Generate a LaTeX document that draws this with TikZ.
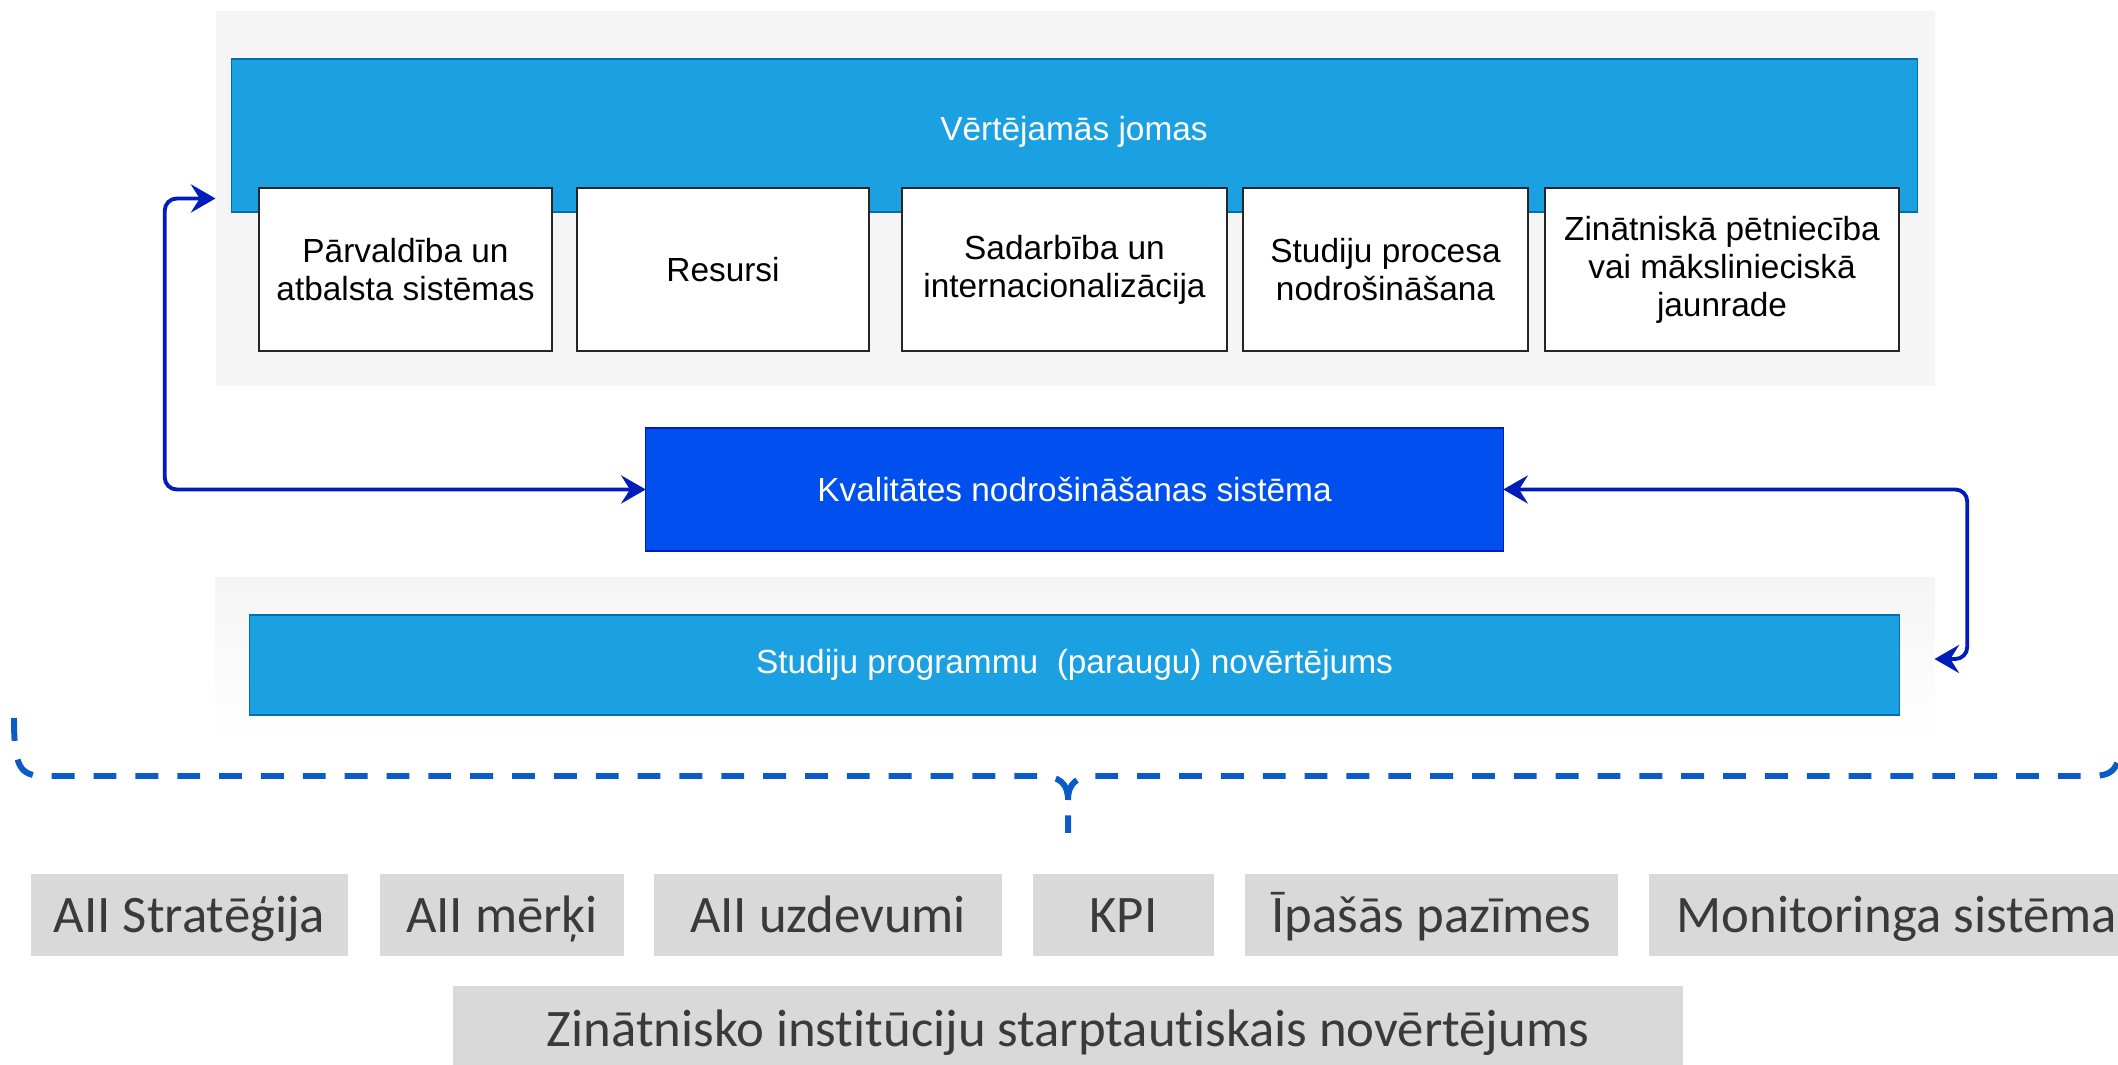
\documentclass[tikz,border=0pt]{standalone}
\usepackage{fontspec}
\setmainfont{Liberation Sans}
\newfontfamily\tagfont[Ligatures=NoCommon]{Carlito}
\usetikzlibrary{arrows.meta}

\definecolor{panelgray}{HTML}{F5F5F5}
\definecolor{headblue}{HTML}{1BA1E2}
\definecolor{headedge}{HTML}{006EAF}
\definecolor{qablue}{HTML}{0050EF}
\definecolor{linkblue}{HTML}{001DBC}
\definecolor{bracecol}{HTML}{0A5AC8}
\definecolor{taggray}{HTML}{D9D9D9}
\definecolor{tagtext}{HTML}{3A3A3A}

\begin{document}
\begin{tikzpicture}
[x=0.01cm,y=-0.01cm,%
  every node/.style={shape=rectangle,inner sep=0pt,outer sep=0pt,align=center},%
  panel/.style={fill=panelgray},%
  bluebar/.style={fill=headblue,draw=headedge,line width=0.4pt,text=white,
    font=\fontsize{9.5pt}{10.8pt}\selectfont},%
  area/.style={fill=white,draw=black!85,line width=0.5pt,minimum height=1.63cm,
    font=\fontsize{9.5pt}{10.8pt}\selectfont},%
  tag/.style={fill=taggray,text=tagtext,minimum height=0.82cm,text height=9.7pt,text depth=0pt,
    font=\tagfont\fontsize{15pt}{18pt}\selectfont},%
  link/.style={draw=linkblue,line width=1.1pt,rounded corners=0.12cm,
    {Stealth[length=7pt,width=8pt,inset=2.5pt]}-{Stealth[length=7pt,width=8pt,inset=2.5pt]}},%
  brace/.style={draw=bracecol,line width=1.7pt,dash pattern=on 6.5pt off 5.4pt}]
\useasboundingbox (0,0) rectangle (2118,1065);
\clip (0,0) rectangle (2118,1065);
%%
\node[panel,minimum width=17.18cm,minimum height=3.75cm] (toppanel) at (1075,198.5) {};
\node[bluebar,minimum width=16.85cm,minimum height=1.53cm] (jomas) at (1074.5,135.5) {};
\node[text=white,font=\fontsize{9.5pt}{10.8pt}\selectfont] (jomaslabel) at (1074,132) {Vērtējamās jomas};
%%
\node[area,minimum width=2.93cm] (parv) at (405.5,269.5) {Pārvaldība un\\atbalsta sistēmas};
\node[area,minimum width=2.92cm] (res) at (723,269.5) {Resursi};
\node[area,minimum width=3.25cm] (sad) at (1064.5,269.5) {Sadarbība un\\internacionalizācija};
\node[area,minimum width=2.85cm] (stud) at (1385.5,269.5) {Studiju procesa\\nodrošināšana};
\node[area,minimum width=3.54cm] (zin) at (1722,269.5) {Zinātniskā pētniecība\\vai mākslinieciskā\\jaunrade};
%%
\node[bluebar,fill=qablue,draw=linkblue,minimum width=8.57cm,minimum height=1.23cm] (kval) at (1074.5,489.5)
  {Kvalitātes nodrošināšanas sistēma};
%%
\node[minimum width=17.18cm,minimum height=1.62cm,top color=panelgray,bottom color=white] (botpanel) at (1075,659) {};
\node[bluebar,minimum width=16.49cm,minimum height=1.0cm] (prog) at (1074.5,665)
  {Studiju programmu\ \ (paraugu) novērtējums};
%%
\foreach \tagName/\cx/\w/\txt in {strat/189.5/3.17/{AII Stratēģija}, merki/502/2.44/{AII mērķi},
  uzd/828/3.48/{AII uzdevumi}, kpi/1123.5/1.81/{KPI}, ipas/1431.5/3.73/{Īpašās pazīmes},
  mon/1897/4.96/{Monitoringa sistēma}}
{
  \node[tag,minimum width=\w cm] (\tagName) at (\cx,915) {\txt};
}
\node[tag,minimum width=12.3cm,minimum height=0.86cm] (zis) at (1068,1029)
  {Zinātnisko institūciju starptautiskais novērtējums};
%%
\draw[link] (kval.west) -- ++(-481,0) |- (toppanel.west);
\draw[link] (kval.east) -- ++(464,0) |- (botpanel.east);
%%
\draw[brace] (14,718) .. controls (14,768) and (20,776) .. (45,776) -- (1040,776)
  .. controls (1060,776) and (1068,784) .. (1068,800) -- (1068,833);
\draw[brace] (1068,800) .. controls (1068,784) and (1076,776) .. (1096,776) -- (2091,776)
  .. controls (2116,776) and (2122,768) .. (2122,718);
\end{tikzpicture}
\end{document}
